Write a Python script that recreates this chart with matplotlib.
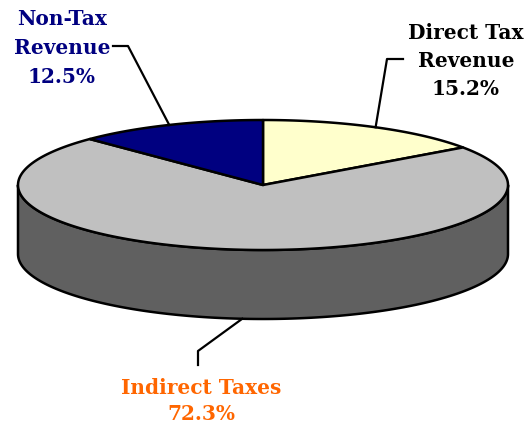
import numpy as np
import matplotlib
matplotlib.use("Agg")
import matplotlib.pyplot as plt
from matplotlib.patches import Polygon

# ---- data ----
categories = ["Direct Tax\nRevenue", "Indirect Taxes", "Non-Tax\nRevenue"]
values = [15.2, 72.3, 12.5]
top_colors = ["#FFFFCC", "#C0C0C0", "#000080"]
side_colors = ["#7F7F66", "#606060", "#000040"]
label_colors = ["#000000", "#FF6600", "#000080"]

# ---- geometry (pixel-like canvas units) ----
W, H = 529, 427
cx, cy = 263, 186
a, b = 245, 65
depth = 69

fig = plt.figure(figsize=(W / 100, H / 100), dpi=100)
ax = fig.add_axes([0, 0, 1, 1])
ax.set_xlim(0, W)
ax.set_ylim(H, 0)
ax.axis("off")

def pt(theta_deg, dy=0.0):
    t = np.radians(theta_deg)
    return cx + a * np.sin(t), cy - b * np.cos(t) + dy

fracs = np.array(values) / sum(values)
edges = np.concatenate([[0], np.cumsum(fracs) * 360])

# sides (visible front half: 90..270 deg clockwise from top)
for i in range(len(values)):
    t1, t2 = max(edges[i], 90), min(edges[i + 1], 270)
    if t2 <= t1:
        continue
    th = np.linspace(t1, t2, 200)
    top = [pt(t) for t in th]
    bot = [pt(t, depth) for t in th[::-1]]
    ax.add_patch(Polygon(top + bot, closed=True, facecolor=side_colors[i],
                         edgecolor="black", lw=1.8, joinstyle="round", zorder=1))

# tops
for i in range(len(values)):
    th = np.linspace(edges[i], edges[i + 1], 300)
    verts = [(cx, cy)] + [pt(t) for t in th]
    ax.add_patch(Polygon(verts, closed=True, facecolor=top_colors[i],
                         edgecolor="black", lw=1.8, joinstyle="round", zorder=2))

# labels and leader lines
font = dict(family="DejaVu Serif", fontweight="bold", fontsize=14.5,
            ha="center", va="center")
mids = (edges[:-1] + edges[1:]) / 2
label_pos = [(466, 61), (201, 401), (62, 48)]
spacings = [1.5, 1.4, 1.58]
elbows = [[(387, 60), (403, 60)], [(198, 352), (198, 366)], [(128, 47), (113, 47)]]
for i in range(len(values)):
    mid = mids[i]
    dy = depth if 90 < mid < 270 else 0
    sx, sy = pt(mid, dy)
    xs = [sx] + [p[0] for p in elbows[i]]
    ys = [sy] + [p[1] for p in elbows[i]]
    ax.plot(xs, ys, color="black", lw=1.6, zorder=3)
    txt = f"{categories[i]}\n{values[i]:.1f}%"
    ax.text(label_pos[i][0], label_pos[i][1], txt, color=label_colors[i],
            linespacing=spacings[i], **font)

fig.savefig("out.png", dpi=100)
